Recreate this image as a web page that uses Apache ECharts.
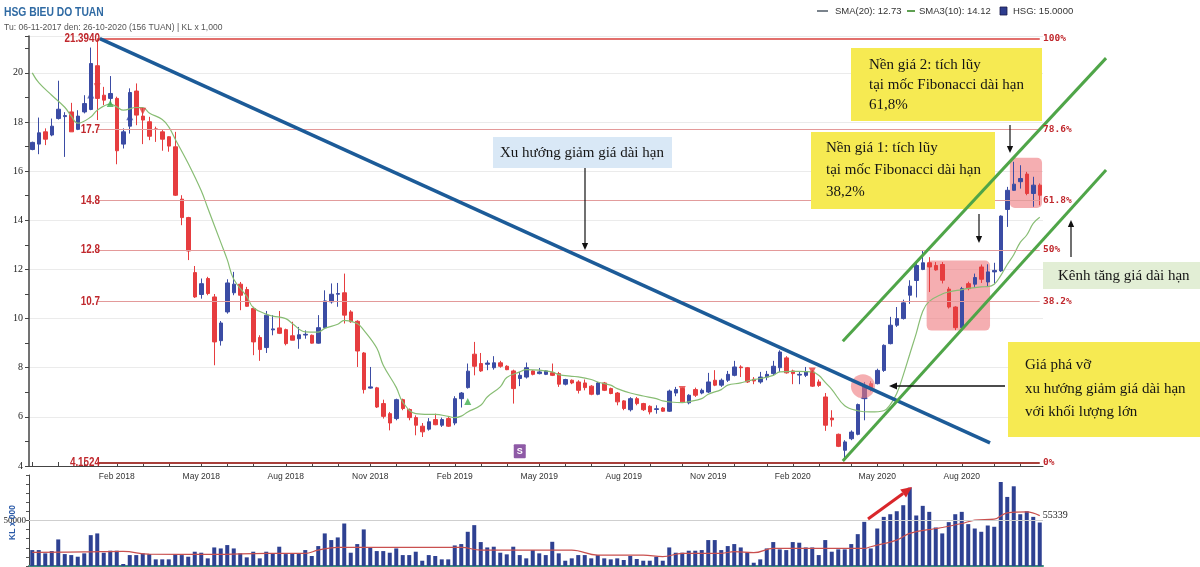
<!DOCTYPE html>
<html><head><meta charset="utf-8">
<script src="https://cdn.jsdelivr.net/npm/echarts@6/dist/echarts.min.js"></script>
<style>html,body{margin:0;padding:0;background:#fff}#c{width:1200px;height:567px}</style>
</head><body><div id="c"></div>
<script>
// ---------- DATA ----------
const startDate = [2017, 10, 6]; // 06-11-2017, weekly, 156 weeks
const weekCount = 156;
const MONTHS = ['Jan','Feb','Mar','Apr','May','Jun','Jul','Aug','Sep','Oct','Nov','Dec'];

const openP = [16.88,17.10,17.60,17.47,18.14,18.22,18.41,17.70,18.41,18.51,
 20.29,19.09,18.96,18.96,17.10,17.83,19.26,18.24,18.01,17.72,
 17.60,17.40,16.99,14.86,14.11,11.87,10.98,11.63,10.88,9.10,
 10.27,11.05,11.40,11.18,10.41,9.23,8.82,9.54,9.62,9.55,
 9.30,9.18,9.33,9.32,9.00,9.63,10.68,10.99,11.05,10.27,
 9.89,8.60,7.17,7.18,6.54,6.13,5.93,6.70,6.30,5.97,
 5.62,5.50,5.89,5.66,5.93,5.75,6.74,7.19,8.55,8.17,
 8.14,8.00,8.20,8.06,7.87,7.56,7.62,7.87,7.76,7.73,
 7.80,7.76,7.33,7.49,7.42,7.38,7.25,6.92,7.38,7.15,
 6.97,6.65,6.29,6.74,6.54,6.43,6.30,6.36,6.23,6.97,
 7.15,6.57,7.11,6.97,7.01,7.49,7.29,7.49,7.69,8.03,
 8.00,7.53,7.42,7.62,7.76,8.00,8.40,7.87,7.70,7.69,
 7.83,7.42,6.81,5.95,5.29,4.64,5.11,5.29,6.74,7.35,
 7.35,7.89,8.98,9.73,10.00,10.95,11.55,12.00,12.27,12.16,
 12.20,11.20,10.47,9.63,11.42,11.40,12.10,11.49,11.90,11.94,
 14.44,15.22,15.57,15.88,15.09,15.43];
const closeP = [17.17,17.56,17.30,17.83,18.52,18.26,17.60,18.24,18.75,20.38,
 18.96,18.89,19.16,16.83,17.60,19.20,18.28,18.08,17.42,17.70,
 17.30,17.02,15.02,14.11,12.75,10.88,11.42,11.02,9.05,9.82,
 11.45,11.40,10.95,10.50,9.05,8.74,10.14,9.58,9.40,8.98,
 9.12,9.34,9.36,9.00,9.63,10.72,10.99,11.02,10.14,9.87,
 8.68,7.11,7.22,6.40,6.02,5.75,6.70,6.34,5.97,5.66,
 5.39,5.80,5.68,5.89,5.62,6.74,6.97,7.86,8.06,7.87,
 8.19,8.20,8.06,7.92,7.15,7.69,8.00,7.73,7.83,7.87,
 7.69,7.33,7.52,7.38,7.08,7.19,6.92,7.38,7.08,6.95,
 6.61,6.34,6.74,6.54,6.29,6.20,6.33,6.23,7.05,7.11,
 6.61,6.88,6.88,7.08,7.42,7.29,7.49,7.73,8.03,8.00,
 7.42,7.46,7.62,7.73,8.06,8.64,7.79,7.76,7.73,7.83,
 7.25,7.28,5.66,5.88,4.80,4.98,5.38,6.50,7.28,7.11,
 7.89,8.91,9.73,10.00,10.64,11.32,12.16,12.27,12.10,11.98,
 11.56,10.47,9.63,11.22,11.22,11.67,11.60,11.90,11.96,14.17,
 15.22,15.47,15.70,15.09,15.43,15.02];
const lowP = [16.85,16.69,17.06,17.42,18.10,16.58,17.60,17.67,18.35,18.48,
 18.08,18.69,18.69,16.28,16.92,17.53,17.87,17.10,17.26,17.19,
 16.83,16.79,14.99,13.80,12.38,10.84,10.81,10.95,8.10,8.90,
 10.20,10.95,10.34,10.48,8.51,8.28,8.60,9.32,9.37,8.91,
 9.12,8.77,9.18,8.98,8.98,9.59,10.61,10.48,9.80,9.83,
 8.03,6.95,7.15,6.36,5.93,5.45,5.86,6.27,5.86,5.25,
 5.18,5.44,5.66,5.59,5.59,5.66,6.38,7.15,7.69,7.83,
 7.90,7.92,8.00,7.90,6.54,7.25,7.56,7.69,7.73,7.70,
 7.66,7.22,7.28,7.33,6.95,7.08,6.88,6.88,7.05,6.92,
 6.47,6.27,6.22,6.47,6.24,6.10,6.13,6.20,6.20,6.84,
 6.57,6.51,6.81,6.92,6.97,7.25,7.22,7.42,7.65,7.62,
 7.38,7.33,7.35,7.49,7.69,7.83,7.76,7.33,7.33,7.62,
 7.22,7.22,5.43,5.60,4.77,4.23,5.05,5.25,5.86,7.04,
 7.32,7.83,8.95,9.66,9.96,10.60,10.86,11.97,11.08,11.95,
 11.43,10.41,9.53,9.59,11.15,11.29,11.45,11.29,11.43,11.90,
 13.73,15.20,15.29,15.02,14.55,14.61];
const highP = [17.20,18.18,17.74,18.14,19.68,18.40,18.78,18.48,19.09,21.03,
 21.39,19.43,19.87,19.03,17.74,19.37,19.57,18.59,18.21,17.81,
 17.67,17.42,17.60,15.02,14.14,12.14,11.63,11.70,11.00,9.90,
 11.60,11.90,11.49,11.29,10.48,9.32,10.31,10.14,10.31,9.59,
 9.87,9.66,9.52,9.35,10.14,11.15,11.43,11.45,11.83,10.34,
 9.93,8.64,8.03,7.22,6.70,6.20,6.74,6.74,6.34,6.06,
 5.75,5.95,6.13,5.97,6.00,6.84,7.01,8.17,9.05,8.60,
 8.30,8.47,8.28,8.10,7.92,7.83,8.21,7.90,7.99,7.90,
 8.17,7.83,7.55,7.52,7.49,7.52,7.29,7.42,7.42,7.19,
 7.01,6.68,6.80,6.81,6.57,6.47,6.47,6.40,7.11,7.22,
 7.19,6.92,7.19,7.15,7.79,7.90,7.56,7.87,8.28,8.10,
 8.03,7.62,7.83,7.87,8.28,8.71,8.47,7.92,7.83,8.03,
 7.90,7.52,6.97,6.27,5.32,5.05,5.45,6.54,7.42,7.45,
 7.96,8.95,10.07,10.47,10.77,11.56,12.30,12.78,12.50,12.30,
 12.30,11.29,10.50,11.29,11.50,11.83,12.20,12.21,12.27,14.20,
 15.36,16.38,16.24,15.97,15.77,15.50];
const volume = [17500,17500,13900,16400,29200,13100,12000,10200,13900,33900,
 35800,14600,16800,16800,2200,12000,12000,13900,13100,7300,
 7300,7300,13100,12000,10200,15700,14600,8400,20400,19300,
 23000,19300,13900,9500,15700,8400,15700,13900,21200,13100,
 13900,13900,17500,11000,21900,35800,28500,31400,46700,14600,
 24100,40200,20400,16400,16400,14600,19300,12000,12000,15700,
 5800,12000,11000,7300,7300,22600,24100,37600,44900,26300,
 20400,21200,14600,12800,21200,12000,8400,17500,13900,12000,
 26600,13900,5800,8400,12000,12000,8400,12000,8400,7300,
 8400,6600,11000,7700,5800,5800,10200,5800,20400,14600,
 14600,16800,16800,17500,28500,28500,17500,21900,24100,20400,
 14600,3600,7300,19300,26300,18300,17500,26300,25600,20400,
 20400,12000,28500,15700,18300,18300,24100,35000,48500,19300,
 41200,54000,56900,60200,66800,86100,55500,66100,59500,42300,
 35800,48200,56900,59500,46000,41200,37600,44500,43100,92300,
 75900,87600,56900,60200,54000,47800];
// green moving average: [week index, value]
const smaGreen = [[0,20.0],[1,19.6],[3,19.09],[5,18.6],[6,18.24],[7,17.95],[9,18.2],[10,18.48],[12,18.73],[13,18.62],
 [14,18.48],[16,18.59],[17,18.59],[18,18.37],[20,18.1],[21,17.8],[22,17.3],[24,16.31],[26,15.2],[27,14.5],
 [29,13.1],[30,12.4],[31,11.6],[33,10.9],[34,10.45],[36,10.18],[37,10.1],[39,10.0],[40,9.8],[42,9.46],
 [44,9.45],[45,9.6],[47,9.77],[48,9.93],[50,9.8],[51,9.53],[53,8.8],[54,8.1],[56,7.2],[57,6.6],
 [59,6.13],[61,6.1],[62,6.1],[64,6.02],[65,5.97],[66,6.03],[67,6.2],[69,6.47],[70,6.81],[72,7.22],
 [73,7.6],[75,7.83],[76,7.92],[78,7.9],[80,7.83],[81,7.72],[83,7.65],[84,7.63],[86,7.52],[87,7.42],
 [89,7.29],[90,7.15],[92,6.97],[94,6.85],[96,6.74],[97,6.65],[98,6.61],[100,6.58],[101,6.62],[103,6.74],
 [104,6.92],[106,7.11],[107,7.29],[109,7.38],[110,7.46],[112,7.56],[114,7.69],[115,7.83],[117,7.85],[118,7.85],
 [120,7.83],[121,7.69],[122,7.4],[123,7.12],[125,6.45],[127,6.25],[129,6.2],[131,6.25],[132,6.5],[133,6.95],
 [134,7.7],[135,8.55],[136,9.4],[137,10.3],[138,10.7],[140,11.0],[141,11.08],[143,11.18],[144,11.23],[146,11.29],
 [147,11.3],[148,11.4],[149,11.75],[150,12.2],[151,12.6],[152,13.1],[153,13.4],[154,13.87],[155,14.12]];
// volume moving average: [week index, value]
const volMa = [[0,15000],[8,15500],[14,16000],[18,13000],[28,12800],[36,13900],[42,13900],[44,17500],[47,20400],[56,20400],
 [66,20400],[69,17500],[83,17500],[87,12000],[94,12000],[97,10200],[100,13900],[106,13900],[108,15700],[111,14600],
 [114,19300],[128,19300],[129,21200],[133,28500],[135,35800],[139,41200],[140,42300],[143,46700],[145,50400],[148,51500],
 [150,58400],[153,59500],[155,55339]];
const priceTickLabels = [4,6,8,10,12,14,16,18,20];
const volTickLabels = [50000];
const fibValues = [21.394, 17.7, 14.8, 12.8, 10.7, 4.1524];
const fibLeftLabels = ['21.3940','17.7','14.8','12.8','10.7','4.1524'];
const fibRightLabels = ['100%','78.6%','61.8%','50%','38.2%','0%'];
// signal triangles: [week index, price, kind]
const signals = [[9,19.1,'upB'],[10,19.43,'dn'],[12,18.75,'upG'],[15,18.21,'upB'],[17,18.44,'dn'],
 [67,6.63,'upG'],[100,7.11,'dn'],[120,7.87,'dn'],[128,6.88,'upB']];
// annotation geometry in data units (week index, price)
const trendLine = [[10.4,21.394],[147.35,4.94]];
const channelUpper = [[124.7,9.08],[165.2,20.6]];
const channelLower = [[124.7,4.2],[165.2,16.05]];
const baseZone1 = [[137.6,12.36],[147.35,9.51]];
const baseZone2 = [[150.4,16.54],[155.35,14.5]];
const breakCircle = [127.8,7.25];
const sMarker = [75,4.6];

// ---------- BUILD ----------
const categories = [];
const t0 = Date.UTC(startDate[0], startDate[1], startDate[2]);
for (let i = 0; i < weekCount; i++) categories.push(new Date(t0 + i * 7 * 864e5).toISOString().slice(0, 10));
const dayOf = s => +s.slice(8, 10);
const monthOf = s => +s.slice(5, 7) - 1;
const candleData = categories.map((_, i) => [openP[i], closeP[i], lowP[i], highP[i]]);
function sparse(pairs) { const a = new Array(weekCount).fill(null); pairs.forEach(p => a[p[0]] = p[1]); return a; }

const chart = echarts.init(document.getElementById('c'), null, {renderer: 'canvas'});
const fibColors = ['#d8403c', '#e49a9a', '#e29c9c', '#e49a9a', '#e39a9a', '#a8403a'];
const fibWidths = [1.5, 1.2, 1.2, 1.2, 1.2, 1.8];

chart.setOption({
  animation: false,
  backgroundColor: '#fff',
  grid: [{left: 29, width: 1014, top: 36, height: 430, containLabel: false, outerBoundsMode: 'none'},
         {left: 29, width: 1014, top: 475, height: 91, containLabel: false, outerBoundsMode: 'none'}],
  xAxis: [
    {type: 'category', gridIndex: 0, data: categories, boundaryGap: true,
     axisLine: {lineStyle: {color: '#444', width: 1}},
     axisTick: {show: true, alignWithLabel: true, inside: true, length: 4, interval: (i, v) => dayOf(v) <= 7, lineStyle: {color: '#444'}},
     axisLabel: {interval: (i, v) => i > 0 && dayOf(v) <= 7 && [1, 4, 7, 10].includes(monthOf(v)),
       formatter: v => MONTHS[monthOf(v)] + ' ' + v.slice(0, 4), fontFamily: 'Liberation Sans', fontSize: 8.5, color: '#333', margin: 6},
     splitLine: {show: false}},
    {type: 'category', gridIndex: 1, data: categories, boundaryGap: true,
     axisLine: {lineStyle: {color: '#3e8e7e', width: 2}}, axisTick: {show: false}, axisLabel: {show: false}, splitLine: {show: false}}
  ],
  yAxis: [
    {type: 'value', gridIndex: 0, min: 4, max: 21.5, interval: 1,
     axisLine: {show: true, lineStyle: {color: '#444', width: 1.5}},
     axisTick: {show: true, length: 4, lineStyle: {color: '#444'}},
     axisLabel: {formatter: v => priceTickLabels.includes(v) ? String(v) : '', fontFamily: 'Liberation Serif', fontSize: 10, color: '#222', margin: 6},
     splitLine: {show: true, lineStyle: {color: ['#ebebeb', 'rgba(0,0,0,0)']}}},
    {type: 'value', gridIndex: 1, min: 0, max: 100000, interval: 10000,
     axisLine: {show: true, lineStyle: {color: '#444'}},
     axisTick: {show: true, length: 3, lineStyle: {color: '#555'}},
     axisLabel: {formatter: v => volTickLabels.includes(v) ? String(v) : '', fontFamily: 'Liberation Serif', fontSize: 9, color: '#222', margin: 3},
     splitLine: {show: false}}
  ],
  series: [
    {type: 'candlestick', xAxisIndex: 0, yAxisIndex: 0, data: candleData, barWidth: 4, z: 3,
     itemStyle: {color: '#3b4ca4', color0: '#e63d3f', borderColor: '#3b4ca4', borderColor0: '#e63d3f', borderWidth: 1},
     markLine: {silent: true, symbol: ['none', 'none'], label: {show: false}, animation: false,
       data: fibValues.map((v, k) => [{coord: [10, v], lineStyle: {color: fibColors[k], width: fibWidths[k], type: 'solid'}}, {coord: [155, v]}])}},
    {type: 'line', xAxisIndex: 0, yAxisIndex: 0, data: sparse(smaGreen), connectNulls: true, smooth: 0.4,
     showSymbol: false, symbol: 'none', lineStyle: {color: '#88bd74', width: 1.2}, z: 4},
    {type: 'scatter', xAxisIndex: 0, yAxisIndex: 0, z: 5, symbolSize: 7,
     data: signals.map(s => ({value: [s[0], s[1]], symbol: 'triangle', symbolRotate: s[2] === 'dn' ? 180 : 0,
       itemStyle: {color: s[2] === 'dn' ? '#e23b3b' : (s[2] === 'upG' ? '#3fae4f' : '#3a4aa8')}}))},
    {type: 'bar', xAxisIndex: 1, yAxisIndex: 1, data: volume, barWidth: 4, itemStyle: {color: '#2e4192'},
     markLine: {silent: true, symbol: ['none', 'none'], label: {show: false}, lineStyle: {color: '#cfcfcf', width: 1, type: 'solid'}, data: [{yAxis: 50000}]}},
    {type: 'line', xAxisIndex: 1, yAxisIndex: 1, data: sparse(volMa), connectNulls: true, smooth: 0.4,
     showSymbol: false, symbol: 'none', lineStyle: {color: '#c9504f', width: 1.2}, z: 4,
     endLabel: {show: true, formatter: '55339', color: '#222', fontFamily: 'Liberation Serif', fontSize: 10, distance: 3}}
  ]
});

// ---------- ANNOTATIONS (positioned through the chart's own scales) ----------
const A = chart.convertToPixel({gridIndex: 0}, [0, 4]);
const B = chart.convertToPixel({gridIndex: 0}, [155, 21]);
function px(i, v) { return [A[0] + (B[0] - A[0]) * i / 155, A[1] + (B[1] - A[1]) * (v - 4) / 17]; }
const V0 = chart.convertToPixel({gridIndex: 1}, [0, 0]);
const V1 = chart.convertToPixel({gridIndex: 1}, [0, 100000]);
const G = [];
function line(p, q, color, w, z) { G.push({type: 'line', z: z || 12, shape: {x1: p[0], y1: p[1], x2: q[0], y2: q[1]}, style: {stroke: color, lineWidth: w}}); }
function arrow(x1, y1, x2, y2, color, w, head, z) {
  const ang = Math.atan2(y2 - y1, x2 - x1), hx = x2 - head * Math.cos(ang), hy = y2 - head * Math.sin(ang);
  const s = Math.sin(ang), c = Math.cos(ang), hw = head * 0.45;
  G.push({type: 'line', z: z || 14, shape: {x1, y1, x2: hx, y2: hy}, style: {stroke: color, lineWidth: w}});
  G.push({type: 'polygon', z: z || 14, shape: {points: [[x2, y2], [hx + hw * s, hy - hw * c], [hx - hw * s, hy + hw * c]]}, style: {fill: color}});
}
function text(x, y, t, st, extra) {
  G.push(Object.assign({type: 'text', x, y, z: 16, style: Object.assign({text: t, fill: '#151515', fontFamily: 'Liberation Serif', fontSize: 15, align: 'left', verticalAlign: 'middle'}, st || {})}, extra || {}));
}
function box(x, y, w, h, fill, z) { G.push({type: 'rect', z: z || 10, shape: {x, y, width: w, height: h}, style: {fill}}); }

// header & legend
text(4, 13, 'HSG BIEU DO TUAN', {fill: '#2f6aa3', fontFamily: 'Liberation Sans', fontWeight: 'bold', fontSize: 12}, {scaleX: 0.86});
text(4, 27, 'Tu: 06-11-2017 den: 26-10-2020 (156 TUAN) | KL x 1,000', {fill: '#555', fontFamily: 'Liberation Sans', fontSize: 9.5}, {scaleX: 0.9});
G.push({type: 'line', z: 16, shape: {x1: 817, y1: 11, x2: 828, y2: 11}, style: {stroke: '#4e5a66', lineWidth: 1.5}});
text(835, 11, 'SMA(20): 12.73', {fill: '#333', fontFamily: 'Liberation Sans', fontSize: 9.5});
G.push({type: 'line', z: 16, shape: {x1: 907, y1: 11, x2: 915, y2: 11}, style: {stroke: '#5fa052', lineWidth: 2}});
text(919, 11, 'SMA3(10): 14.12', {fill: '#333', fontFamily: 'Liberation Sans', fontSize: 9.5});
G.push({type: 'rect', z: 16, shape: {x: 1000, y: 7, width: 7, height: 8}, style: {fill: '#2d3c8e', stroke: '#1a1a4a', lineWidth: 0.8}});
text(1013, 11, 'HSG: 15.0000', {fill: '#333', fontFamily: 'Liberation Sans', fontSize: 9.5});

// volume axis name (vertical)
text(V0[0] - 20, (V0[1] + V1[1]) / 2 + 2, 'KL x 000', {fill: '#2a5aa8', fontFamily: 'Liberation Sans', fontWeight: 'bold', fontSize: 8.5, align: 'center'}, {rotation: Math.PI / 2});

// fib labels
fibValues.forEach((v, k) => {
  const y = px(0, v)[1];
  text(100, y, fibLeftLabels[k], {fill: '#c0282d', fontFamily: 'Liberation Sans', fontWeight: 'bold', fontSize: 12, align: 'right'}, {scaleX: 0.82});
  text(1043, y, fibRightLabels[k], {fill: '#c0282d', fontFamily: 'DejaVu Sans Mono', fontWeight: 'bold', fontSize: 9.5});
});

// pink zones & circle (under candles)
[baseZone1, baseZone2].forEach(zn => {
  const p = px(zn[0][0], zn[0][1]), q = px(zn[1][0], zn[1][1]);
  G.push({type: 'rect', z: 1, shape: {x: p[0], y: p[1], width: q[0] - p[0], height: q[1] - p[1], r: 5}, style: {fill: 'rgba(238,120,125,0.6)'}});
});
const cc = px(breakCircle[0], breakCircle[1]);
G.push({type: 'circle', z: 6, shape: {cx: cc[0], cy: cc[1], r: 12}, style: {fill: 'rgba(238,120,125,0.6)'}});

// trend & channel lines
line(px(...trendLine[0]), px(...trendLine[1]), '#1c5b98', 3.5, 12);
line(px(...channelUpper[0]), px(...channelUpper[1]), '#4fa548', 3, 13);
line(px(...channelLower[0]), px(...channelLower[1]), '#4fa548', 3, 13);

// S marker
const sp = px(sMarker[0], sMarker[1]);
G.push({type: 'rect', z: 16, shape: {x: sp[0] - 6, y: sp[1] - 7, width: 12, height: 14, r: 1}, style: {fill: '#8e5aa6'}});
text(sp[0], sp[1], 'S', {fill: '#fff', fontFamily: 'Liberation Sans', fontWeight: 'bold', fontSize: 9, align: 'center'});

// text boxes
box(493, 137, 179, 31, '#d9e8f6');
text(500, 153, 'Xu hướng giảm giá dài hạn');
box(851, 48, 191, 73, '#f6ea52');
text(869, 65, 'Nền giá 2: tích lũy'); text(869, 85, 'tại mốc Fibonacci dài hạn'); text(869, 105, '61,8%');
box(811, 132, 184, 77, '#f6ea52');
text(826, 148, 'Nền giá 1: tích lũy'); text(826, 170, 'tại mốc Fibonacci dài hạn'); text(826, 192, '38,2%');
box(1008, 342, 192, 95, '#f6ea52');
text(1025, 365, 'Giá phá vỡ'); text(1025, 389, 'xu hướng giảm giá dài hạn'); text(1025, 412, 'với khối lượng lớn');
box(1043, 262, 157, 27, '#e2eed5');
text(1058, 276, 'Kênh tăng giá dài hạn');

// arrows
arrow(585, 168, 585, 250, '#111', 1.2, 7);
arrow(1010, 125, 1010, 153, '#111', 1.2, 7);
arrow(979, 214, 979, 243, '#111', 1.2, 7);
arrow(1071, 257, 1071, 220, '#111', 1.2, 7);
arrow(1005, 386, 889, 386, '#111', 1.3, 8);
arrow(868, 519, 912, 487, '#d9262a', 3, 11, 16);

chart.setOption({graphic: {elements: G}});
</script>
</body></html>
